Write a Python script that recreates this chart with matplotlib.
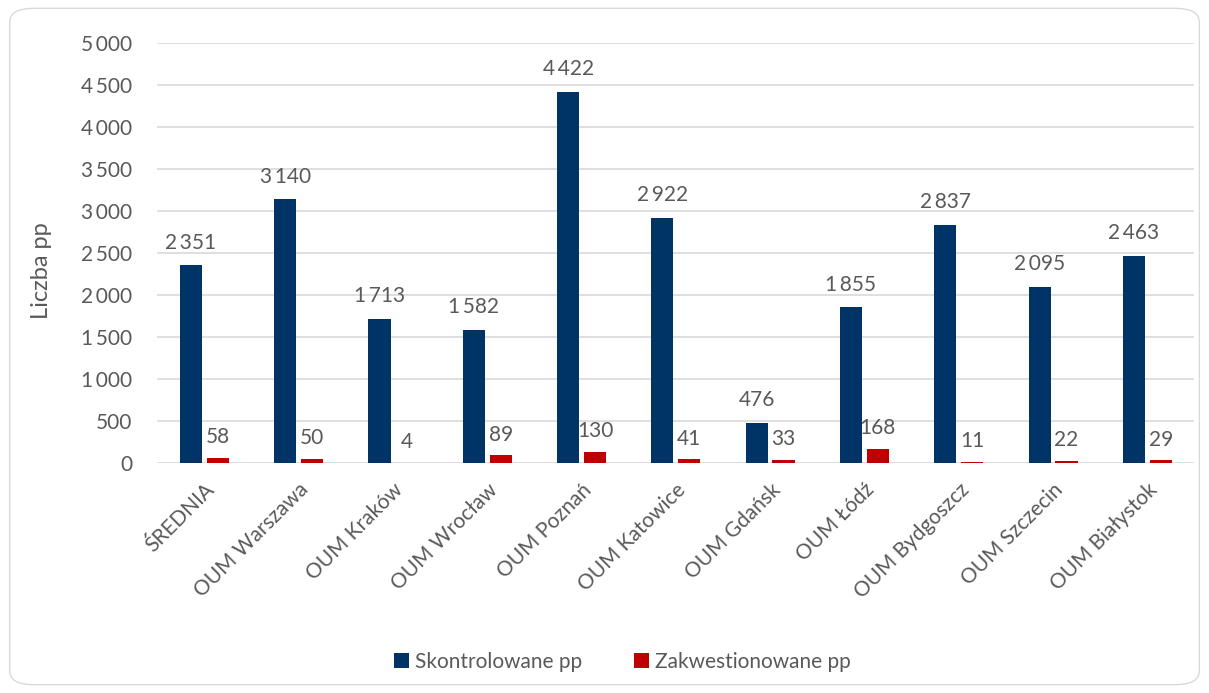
import matplotlib.pyplot as plt
import numpy as np
from matplotlib.patches import FancyBboxPatch
from matplotlib.ticker import FuncFormatter

categories = ['ŚREDNIA', 'OUM Warszawa', 'OUM Kraków', 'OUM Wrocław', 'OUM Poznań',
              'OUM Katowice', 'OUM Gdańsk', 'OUM Łódź', 'OUM Bydgoszcz', 'OUM Szczecin',
              'OUM Białystok']
skontrolowane = [2351, 3140, 1713, 1582, 4422, 2922, 476, 1855, 2837, 2095, 2463]
zakwestionowane = [58, 50, 4, 89, 130, 41, 33, 168, 11, 22, 29]

navy = '#003366'
red = '#C00000'
grey = '#595959'

plt.rcParams['font.family'] = ['Lato', 'DejaVu Sans']


def fmt(v):
    # polish style: narrow space as thousands separator
    return f'{int(v):,}'.replace(',', '\u2009')


fig = plt.figure(figsize=(12.09, 6.93), dpi=100)
ax = fig.add_axes([0.13, 0.332, 0.858, 0.606])

# rounded frame around the whole chart
frame = FancyBboxPatch((0.008, 0.012), 0.984, 0.976, boxstyle='round,pad=0,rounding_size=0.02',
                       transform=fig.transFigure, fill=False, edgecolor='#d9d9d9', lw=1)
fig.patches.append(frame)

x = np.arange(len(categories))
w = 0.235
b1 = ax.bar(x - w / 2 - 0.025, skontrolowane, w, color=navy, label='Skontrolowane pp', zorder=3)
b2 = ax.bar(x + w / 2 + 0.025, zakwestionowane, w, color=red, label='Zakwestionowane pp', zorder=3)

for rect, v in zip(b1, skontrolowane):
    ax.text(rect.get_x() + rect.get_width() / 2, v + 150, fmt(v), ha='center', va='bottom',
            fontsize=15, color=grey)
for rect, v in zip(b2, zakwestionowane):
    ax.text(rect.get_x() + rect.get_width() / 2, v + 130, fmt(v), ha='center', va='bottom',
            fontsize=15, color=grey)

ax.set_ylim(0, 5000)
ax.set_xlim(-0.5, len(categories) - 0.5)
ax.set_yticks(np.arange(0, 5001, 500))
ax.yaxis.set_major_formatter(FuncFormatter(lambda v, p: fmt(v)))
ax.grid(axis='y', color='#d9d9d9', lw=1.2, zorder=0)
for s in ax.spines.values():
    s.set_visible(False)
ax.tick_params(axis='both', length=0, colors=grey, labelsize=15)
ax.tick_params(axis='y', pad=18)
ax.set_xticks(x)
ax.set_xticklabels(categories, rotation=45, ha='right', rotation_mode='anchor')
ax.tick_params(axis='x', pad=12)
ax.set_ylabel('Liczba pp', fontsize=17, color=grey)
ax.yaxis.set_label_coords(-0.101, 0.457)

fig.legend(loc='center', bbox_to_anchor=(0.515, 0.045), ncol=2, frameon=False,
           fontsize=15, labelcolor=grey, handlelength=0.7, handleheight=0.7,
           handletextpad=0.3, columnspacing=2.5)

fig.savefig('out.png', dpi=100)
